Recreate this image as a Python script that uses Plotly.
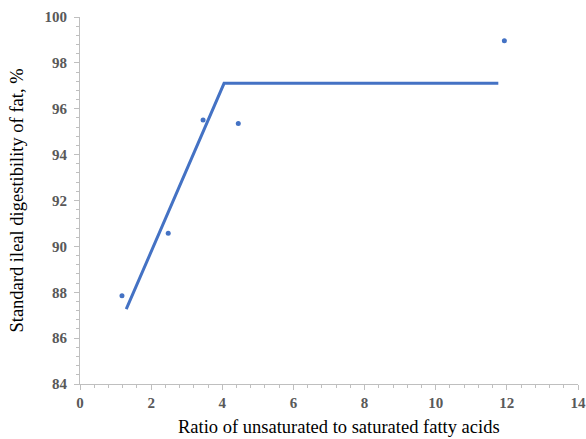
import plotly.graph_objects as go

# Observed data points
ratio = [1.18, 2.48, 3.46, 4.45, 11.93]
digestibility = [87.85, 90.57, 95.51, 95.36, 98.97]

# Broken-line (linear plateau) fit
fit_x = [1.30, 4.05, 11.76]
fit_y = [87.26, 97.11, 97.11]

x_ticks = [0, 2, 4, 6, 8, 10, 12, 14]
y_ticks = [84, 86, 88, 90, 92, 94, 96, 98, 100]

x_title = "Ratio of unsaturated to saturated fatty acids"
y_title = "Standard ileal digestibility of fat, %"

blue = "#4472C4"
axis_col = "#BFBFBF"
tick_font = dict(family="Liberation Serif", size=15, color="#595959", weight="bold")
title_font = dict(family="Liberation Serif", size=18.5, color="#000000")

fig = go.Figure()
fig.add_trace(go.Scatter(x=fit_x, y=fit_y, mode="lines",
                         line=dict(color=blue, width=3), showlegend=False))
fig.add_trace(go.Scatter(x=ratio, y=digestibility, mode="markers",
                         marker=dict(color=blue, size=5), showlegend=False))

fig.update_layout(
    width=586, height=439,
    margin=dict(l=80, r=8, t=17, b=55, autoexpand=False),
    plot_bgcolor="white", paper_bgcolor="white",
)
fig.add_annotation(text=x_title, font=title_font, showarrow=False,
                   xref="paper", yref="paper", x=0.52, y=0,
                   xanchor="center", yanchor="middle", yshift=-43)
fig.update_xaxes(
    range=[0, 14], tickvals=x_ticks, ticktext=[str(v) for v in x_ticks],
    automargin=False, ticklabeloverflow="allow",
    showgrid=False, zeroline=False, showline=True, linecolor=axis_col, linewidth=1,
    ticks="outside", ticklen=5, tickcolor=axis_col, tickfont=tick_font,
    minor=dict(dtick=0.4, tick0=0, ticks="outside", ticklen=3, tickcolor=axis_col, showgrid=False),
)
fig.update_yaxes(
    range=[84, 100], tickvals=y_ticks, ticktext=[str(v) for v in y_ticks],
    automargin=False, ticklabelstandoff=4,
    showgrid=False, zeroline=False, showline=True, linecolor=axis_col, linewidth=1,
    ticks="outside", ticklen=5, tickcolor=axis_col, tickfont=tick_font,
    minor=dict(dtick=0.4, tick0=84, ticks="outside", ticklen=3, tickcolor=axis_col, showgrid=False),
    title=dict(text=y_title, font=title_font, standoff=16),
)

# remove the default 8px page margin so the 586x439 figure fills the window exactly
fig.write_html("out.html", config={"displayModeBar": False},
               post_script="document.body.style.margin='0';document.body.style.overflow='hidden';")
